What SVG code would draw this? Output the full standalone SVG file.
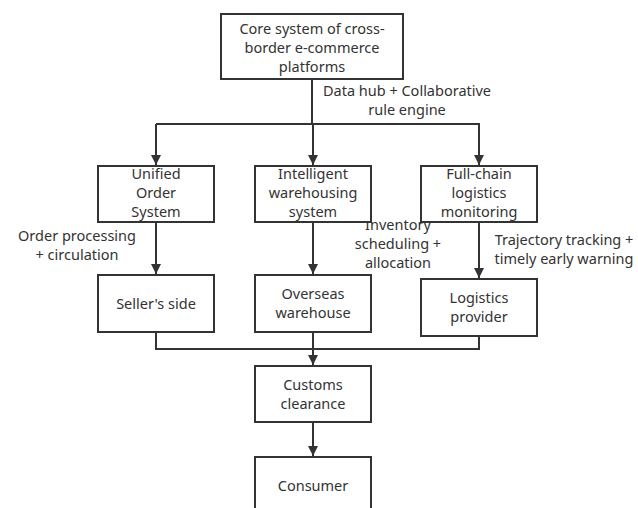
<svg xmlns="http://www.w3.org/2000/svg" width="638" height="508" viewBox="0 0 638 508">
<defs>
<marker id="arr" viewBox="0 0 10 10" refX="10" refY="5" markerWidth="10" markerHeight="10" markerUnits="userSpaceOnUse" orient="auto">
<path d="M0,0 L10,5 L0,10 Z" fill="#333"/>
</marker>
<style>
.box{fill:#fff;stroke:#333;stroke-width:2}
.t{font-family:"Noto Sans","Open Sans",sans-serif;font-size:14.5px;fill:#333;text-anchor:middle}
.c{fill:none;stroke:#333;stroke-width:2}
</style>
</defs>
<rect width="638" height="508" fill="#fff"/>
<g id="connectors">
<path class="c" d="M312,79 V124"/>
<path class="c" d="M156,124 H480"/>
<path class="c" d="M156,124 V165" marker-end="url(#arr)"/>
<path class="c" d="M313,124 V165" marker-end="url(#arr)"/>
<path class="c" d="M479,124 V165" marker-end="url(#arr)"/>
<path class="c" d="M156,222 V274" marker-end="url(#arr)"/>
<path class="c" d="M313,222 V274" marker-end="url(#arr)"/>
<path class="c" d="M479,222 V278" marker-end="url(#arr)"/>
<path class="c" d="M156,332 V349 H479 V336"/>
<path class="c" d="M313,332 V365" marker-end="url(#arr)"/>
<path class="c" d="M313,422 V456" marker-end="url(#arr)"/>
<text class="t" x="407" y="96">Data hub + Collaborative</text>
<text class="t" x="407" y="115">rule engine</text>
<text class="t" x="77" y="241">Order processing</text>
<text class="t" x="77" y="260">+ circulation</text>
<text class="t" x="398" y="230">Inventory</text>
<text class="t" x="398" y="249">scheduling +</text>
<text class="t" x="398" y="268">allocation</text>
<text class="t" x="564" y="245">Trajectory tracking +</text>
<text class="t" x="564" y="264">timely early warning</text>
</g>
<g id="core">
<rect class="box" x="221" y="14" width="182" height="65"/>
<text class="t" x="312" y="34">Core system of cross-</text>
<text class="t" x="312" y="53">border e-commerce</text>
<text class="t" x="312" y="72">platforms</text>
</g>
<g id="unified">
<rect class="box" x="98" y="166" width="116" height="56"/>
<text class="t" x="156" y="179">Unified</text>
<text class="t" x="156" y="198">Order</text>
<text class="t" x="156" y="217">System</text>
</g>
<g id="intelligent">
<rect class="box" x="255" y="166" width="116" height="56"/>
<text class="t" x="313" y="179">Intelligent</text>
<text class="t" x="313" y="198">warehousing</text>
<text class="t" x="313" y="217">system</text>
</g>
<g id="fullchain">
<rect class="box" x="421" y="166" width="116" height="56"/>
<text class="t" x="479" y="179">Full-chain</text>
<text class="t" x="479" y="198">logistics</text>
<text class="t" x="479" y="217">monitoring</text>
</g>
<g id="seller">
<rect class="box" x="98" y="275" width="116" height="57"/>
<text class="t" x="156" y="309">Seller's side</text>
</g>
<g id="overseas">
<rect class="box" x="255" y="275" width="116" height="57"/>
<text class="t" x="313" y="299">Overseas</text>
<text class="t" x="313" y="318">warehouse</text>
</g>
<g id="logistics">
<rect class="box" x="421" y="279" width="116" height="57"/>
<text class="t" x="479" y="303">Logistics</text>
<text class="t" x="479" y="322">provider</text>
</g>
<g id="customs">
<rect class="box" x="255" y="366" width="116" height="56"/>
<text class="t" x="313" y="390">Customs</text>
<text class="t" x="313" y="409">clearance</text>
</g>
<g id="consumer">
<rect class="box" x="255" y="457" width="116" height="57"/>
<text class="t" x="313" y="491">Consumer</text>
</g>
</svg>
